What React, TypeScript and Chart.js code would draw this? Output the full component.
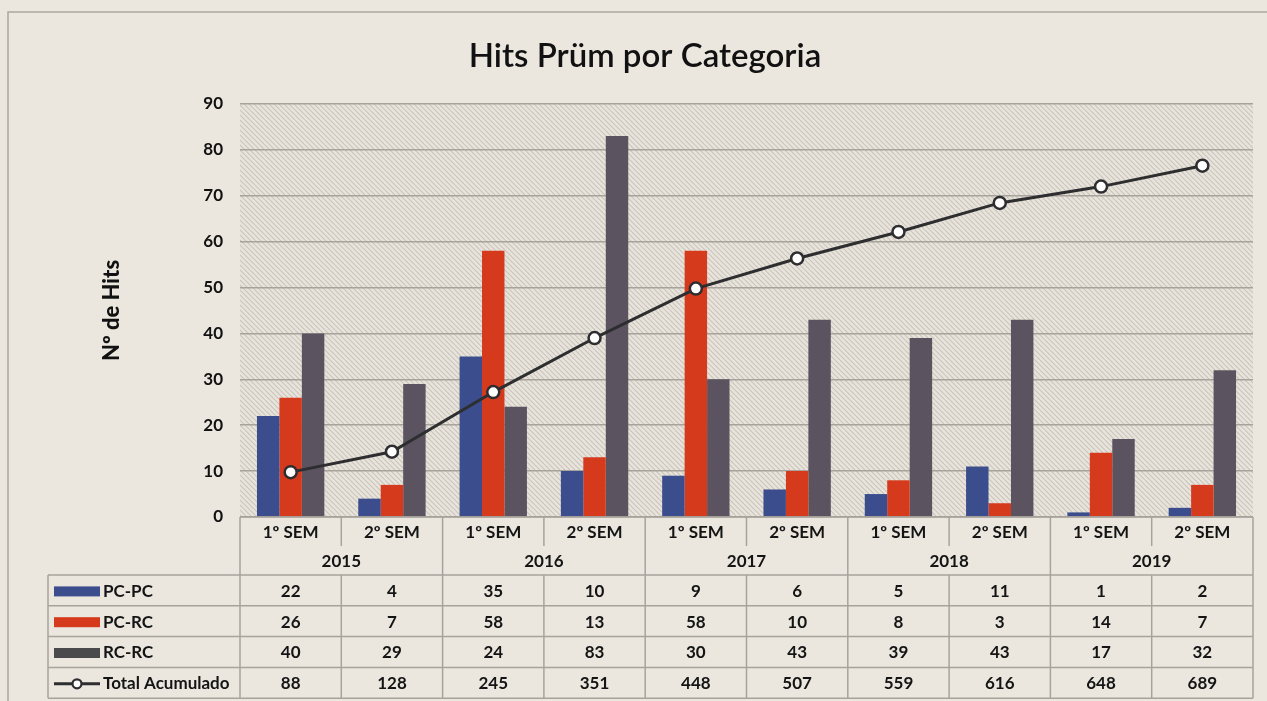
import React, { useEffect, useRef } from "react";
import { Chart, registerables } from "chart.js";

Chart.register(...registerables);

const categories = ["1º SEM", "2º SEM", "1º SEM", "2º SEM", "1º SEM", "2º SEM", "1º SEM", "2º SEM", "1º SEM", "2º SEM"];
const years = ["2015", "2016", "2017", "2018", "2019"];
const pcPc = [22, 4, 35, 10, 9, 6, 5, 11, 1, 2];
const pcRc = [26, 7, 58, 13, 58, 10, 8, 3, 14, 7];
const rcRc = [40, 29, 24, 83, 30, 43, 39, 43, 17, 32];
const totalAcumulado = [88, 128, 245, 351, 448, 507, 559, 616, 648, 689];
const seriesNames = ["PC-PC", "PC-RC", "RC-RC", "Total Acumulado"];
const title = "Hits Prüm por Categoria";
const yTitle = "Nº de Hits";

const BLUE = "#3b4d8c";
const RED = "#d53a1c";
const GRAY = "#5b5460";
const LINE = "#2e2e30";
const GRID = "#a7a39c";
const FONT = "Lato, 'Open Sans', sans-serif";

function makePattern(): CanvasPattern | string {
  const s = 5;
  const c = document.createElement("canvas");
  c.width = s;
  c.height = s;
  const g = c.getContext("2d");
  if (!g) return "#e2ded5";
  g.fillStyle = "#e8e4db";
  g.fillRect(0, 0, s, s);
  g.strokeStyle = "#c8c4bc";
  g.lineWidth = 1.1;
  for (const k of [-s, 0, s]) {
    g.beginPath();
    g.moveTo(k, 0);
    g.lineTo(k + s, s);
    g.stroke();
  }
  const p = g.createPattern(c, "repeat");
  return p || "#e2ded5";
}

const decorPlugin = {
  id: "decor",
  beforeDraw(chart: any) {
    const { ctx, chartArea: ca } = chart;
    ctx.save();
    ctx.fillStyle = "#ebe7df";
    ctx.fillRect(0, 0, chart.width, chart.height);
    ctx.strokeStyle = "#aca89f";
    ctx.lineWidth = 1.5;
    ctx.strokeRect(8, 12, chart.width + 20, chart.height + 20);
    ctx.fillStyle = makePattern();
    ctx.fillRect(ca.left, ca.top, ca.right - ca.left, ca.bottom - ca.top);
    ctx.restore();
  },
  afterDraw(chart: any) {
    const { ctx, chartArea: ca } = chart;
    const n = categories.length;
    const colW = (ca.right - ca.left) / n;
    const top = ca.bottom;
    const catBottom = top + 29;
    const yearBottom = top + 58;
    const rowH = 30.8;
    const rowTops = [0, 1, 2, 3, 4].map((i) => yearBottom + i * rowH);
    const tableLeft = 48;
    const tableBottom = rowTops[4];

    ctx.save();
    // title
    ctx.fillStyle = "#111111";
    ctx.font = `600 33px ${FONT}`;
    ctx.textAlign = "center";
    ctx.textBaseline = "middle";
    ctx.fillText(title, 645, 56);

    // y title
    ctx.save();
    ctx.translate(112, (ca.top + ca.bottom) / 2);
    ctx.rotate(-Math.PI / 2);
    ctx.font = `900 22px ${FONT}`;
    ctx.fillText(yTitle, 0, 0);
    ctx.restore();

    // grid lines of table
    ctx.strokeStyle = GRID;
    ctx.lineWidth = 1.5;
    const line = (x1: number, y1: number, x2: number, y2: number) => {
      ctx.beginPath();
      ctx.moveTo(x1, y1);
      ctx.lineTo(x2, y2);
      ctx.stroke();
    };
    line(ca.left, top, ca.right, top);
    rowTops.forEach((y) => line(tableLeft, y, ca.right, y));
    line(tableLeft, rowTops[0], tableLeft, tableBottom);
    for (let i = 0; i <= n; i++) {
      const x = ca.left + i * colW;
      if (i % 2 === 0) {
        line(x, top, x, tableBottom);
      } else {
        line(x, top, x, catBottom);
        line(x, yearBottom, x, tableBottom);
      }
    }

    // texts
    ctx.fillStyle = "#141414";
    ctx.font = `bold 17px ${FONT}`;
    ctx.textAlign = "center";
    ctx.textBaseline = "middle";
    categories.forEach((c, i) => {
      ctx.fillText(c, ca.left + (i + 0.5) * colW, top + 16);
    });
    years.forEach((y, i) => {
      ctx.fillText(y, ca.left + (i * 2 + 1) * colW, top + 45);
    });
    const rows = [pcPc, pcRc, rcRc, totalAcumulado];
    rows.forEach((vals, r) => {
      const cy = rowTops[r] + rowH / 2 + 1;
      vals.forEach((v, i) => {
        ctx.fillText(String(v), ca.left + (i + 0.5) * colW, cy);
      });
    });

    // legend keys
    const colors = [BLUE, RED, "#4a4a4c"];
    ctx.textAlign = "left";
    seriesNames.forEach((name, r) => {
      const cy = rowTops[r] + rowH / 2 + 1;
      if (r < 3) {
        ctx.fillStyle = colors[r];
        ctx.fillRect(54, cy - 5, 46, 10);
      } else {
        ctx.strokeStyle = LINE;
        ctx.lineWidth = 3;
        line(54, cy, 100, cy);
        ctx.beginPath();
        ctx.arc(77, cy, 4.5, 0, Math.PI * 2);
        ctx.fillStyle = "#ffffff";
        ctx.fill();
        ctx.lineWidth = 2.2;
        ctx.stroke();
      }
      ctx.fillStyle = "#141414";
      ctx.fillText(name, 103, cy);
    });
    ctx.restore();
  },
};

export default function App() {
  const ref = useRef<HTMLCanvasElement | null>(null);
  useEffect(() => {
    if (!ref.current) return;
    const chart = new Chart(ref.current, {
      type: "bar",
      data: {
        labels: categories,
        datasets: [
          {
            type: "line",
            label: seriesNames[3],
            data: totalAcumulado,
            yAxisID: "y2",
            borderColor: LINE,
            borderWidth: 3,
            pointRadius: 6,
            pointBorderWidth: 2.5,
            pointBackgroundColor: "#ffffff",
            pointBorderColor: LINE,
            tension: 0,
            order: 0,
          } as any,
          { label: seriesNames[0], data: pcPc, backgroundColor: BLUE, order: 1 },
          { label: seriesNames[1], data: pcRc, backgroundColor: RED, order: 1 },
          { label: seriesNames[2], data: rcRc, backgroundColor: GRAY, order: 1 },
        ],
      },
      options: {
        responsive: false,
        animation: false,
        layout: { padding: { left: 0, right: 14, top: 104, bottom: 184 } },
        datasets: { bar: { categoryPercentage: 0.665, barPercentage: 1.0 } },
        plugins: { legend: { display: false }, tooltip: { enabled: false }, title: { display: false } },
        scales: {
          x: { display: false, grid: { display: false } },
          y: {
            min: 0,
            max: 90,
            ticks: { stepSize: 10, padding: 17, color: "#111111", font: { family: FONT, size: 17, weight: "bold" } },
            grid: { color: GRID, lineWidth: 1.5, drawTicks: false },
            border: { display: false },
            afterFit: (s: any) => {
              s.width = 240;
            },
          },
          y2: { display: false, min: 0, max: 810, position: "right" },
        },
      },
      plugins: [decorPlugin],
    });
    return () => chart.destroy();
  }, []);
  return (
    <div style={{ position: "fixed", left: 0, top: 0, width: 1267, height: 701 }}>
      <canvas ref={ref} width={1267} height={701} style={{ width: 1267, height: 701 }} />
    </div>
  );
}
